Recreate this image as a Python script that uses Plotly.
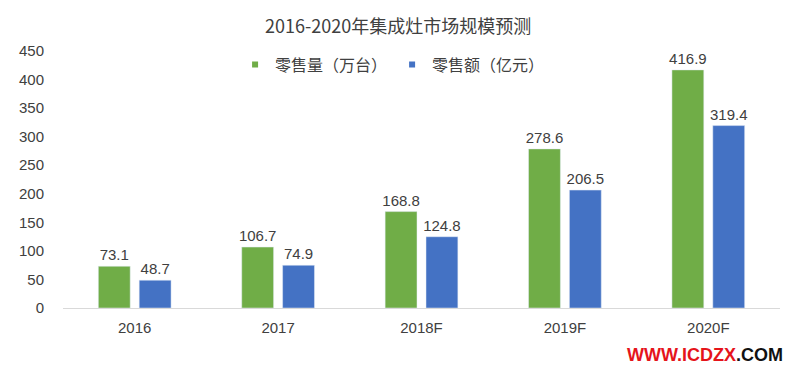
import plotly.graph_objects as go

categories = ["2016", "2017", "2018F", "2019F", "2020F"]
volume = [73.1, 106.7, 168.8, 278.6, 416.9]   # 零售量（万台）
revenue = [48.7, 74.9, 124.8, 206.5, 319.4]   # 零售额（亿元）
series_names = ["零售量（万台）", "零售额（亿元）"]
series_colors = ["#70AD47", "#4472C4"]
y_ticks = [0, 50, 100, 150, 200, 250, 300, 350, 400, 450]

FONT = "Liberation Sans, Arial, Noto Sans CJK SC"
CJK = "Noto Sans CJK SC, Liberation Sans"

fig = go.Figure()
for vals, name, col in zip([volume, revenue], series_names, series_colors):
    fig.add_trace(go.Bar(
        x=categories, y=vals, name=name,
        marker_color=col, showlegend=False,
        text=[f"{v:.1f}" for v in vals], textposition="outside",
        constraintext="none",
        textfont=dict(size=15, color="#404040", family=FONT),
        cliponaxis=False,
    ))
# legend entries with small square swatches
for name, col in zip(series_names, series_colors):
    fig.add_trace(go.Scatter(
        x=[None], y=[None], mode="markers", name=name,
        marker=dict(symbol="square", size=6, color=col),
        showlegend=True,
    ))

# The page body has an 8px default margin, so the figure is 792x372
fig.update_layout(
    width=792, height=372,
    margin=dict(l=55, r=20, t=43, b=72),
    paper_bgcolor="white", plot_bgcolor="white",
    barmode="group", bargap=0.43, bargroupgap=0.22,
    font=dict(family=FONT, color="#404040", size=15),
    title=dict(
        text="2016-2020年集成灶市场规模预测",
        x=0.4925, xanchor="center", y=0.949, yanchor="middle",
        font=dict(size=18, color="#404040", family=CJK),
    ),
    legend=dict(
        orientation="h", x=0.240, xanchor="left", y=0.947, yanchor="middle",
        font=dict(size=16, color="#404040", family=CJK),
        bgcolor="rgba(0,0,0,0)", itemwidth=30,
    ),
    xaxis=dict(
        showline=True, linecolor="#D9D9D9", linewidth=1,
        showgrid=False, ticks="", ticklabelstandoff=6,
        tickfont=dict(size=15, color="#404040"),
        automargin=False,
    ),
    yaxis=dict(
        range=[0, 450], tickvals=y_ticks, showgrid=False, zeroline=False,
        showline=False, ticks="", tickfont=dict(size=15, color="#404040"),
        ticklabelstandoff=18, automargin=False,
    ),
)

fig.add_annotation(
    xref="paper", yref="paper", x=1.007, y=-0.183, xanchor="right", yanchor="middle",
    text="<span style='color:#E5141B'>WWW.ICDZX</span><span style='color:#111111'>.COM</span>",
    showarrow=False,
    font=dict(size=18, family="Liberation Sans", weight="bold"),
)

fig.write_html("out.html")
